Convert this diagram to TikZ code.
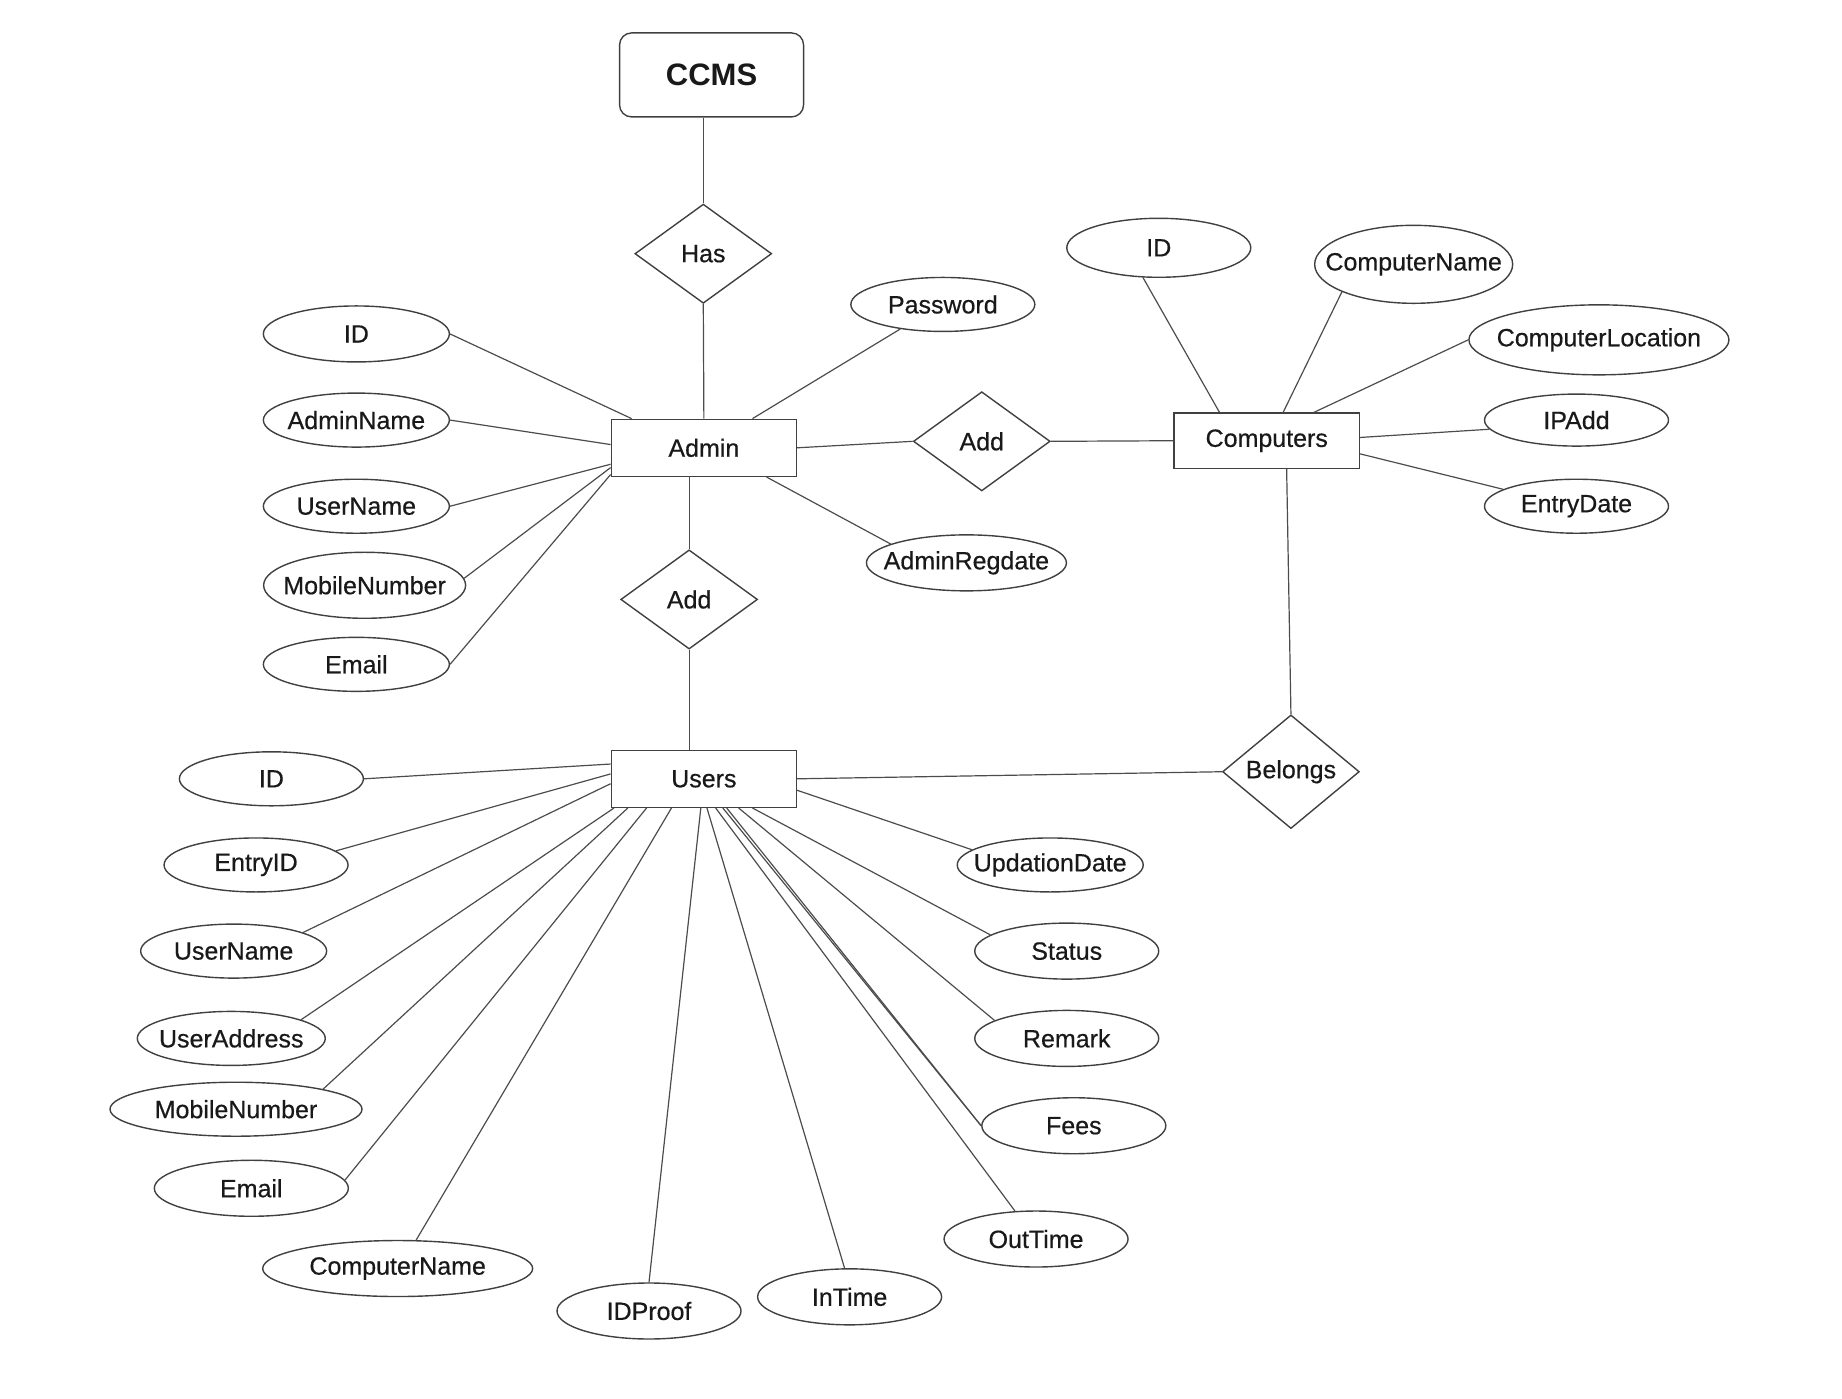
\documentclass[tikz,border=0pt]{standalone}
\usepackage{fontspec}
\setmainfont{Liberation Sans}
\newfontfamily\erfont{Liberation Sans}[FakeBold=0.5]
\usetikzlibrary{shapes.geometric}

\begin{document}
\begin{tikzpicture}[x=0.59pt, y=-0.59pt,
    every node/.style={font=\erfont\fontsize{12.5}{14}\selectfont, text=black!90},
    entity/.style={draw=black!75, line width=0.7pt, minimum width=92.6pt, minimum height=28.5pt, inner sep=0pt},
    rel/.style={draw=black!75, line width=0.7pt, diamond, minimum width=68.4pt, minimum height=49.6pt, inner sep=0pt},
    attr/.style={draw=black!75, line width=0.7pt, ellipse, minimum width=92pt, minimum height=27.5pt, inner sep=0pt,
        execute at begin node=\hbox to 0pt\bgroup\hss, execute at end node=\hss\egroup},
    link/.style={black!70, line width=0.6pt}]
    \useasboundingbox (0,0) rectangle (1561,1185);

    % entities and relations
    \node[draw=black!75, line width=0.7pt, rounded corners=6pt, minimum width=92pt, minimum height=42pt,
        font=\bfseries\fontsize{15.5}{18}\selectfont] (ccms) at (603,63.5) {CCMS};
    \node[rel] (has) at (596,215) {Has};
    \node[entity] (admin) at (596.5,379.5) {Admin};
    \node[rel] (addc) at (832,374) {Add};
    \node[entity, minimum height=27.7pt] (comp) at (1073.5,373.5) {Computers};
    \node[rel] (addu) at (584,508) {Add};
    \node[entity] (users) at (596.5,660) {Users};
    \node[rel] (belongs) at (1094,654) {Belongs};

    \draw[link] (has.north) -- (has.north |- ccms.south);
    \draw[link] (has.south) -- (admin.north);
    \draw[link] (admin.east) -- (addc.west);
    \draw[link] (addc.east) -- (comp.west);
    \draw[link] (addu.north |- admin.south) -- (addu.north);
    \draw[link] (addu.south) -- (addu.south |- users.north);
    \draw[link] (users.east) -- (belongs.west);
    \draw[link] (comp.305) -- (belongs.north);

    % admin attributes
    \foreach \n/\px/\py/\t/\w/\h/\s/\e in {
        aid/302/283/ID/93pt/28pt/east/158,
        aname/302/356/AdminName/93pt/27pt/east/178,
        auser/302/429/UserName/93pt/27pt/east/190,
        amob/309/496/MobileNumber/101pt/33pt/4/192,
        amail/302/563/Email/93pt/27pt/east/196,
        apass/799/258/Password/92pt/27pt/210/31,
        areg/819/477/AdminRegdate/100pt/28pt/166/335} {
        \node[attr, minimum width=\w, minimum height=\h] (\n) at (\px,\py) {\t};
        \draw[link] (\n.\s) -- (admin.\e);
    }

    % computer attributes
    \foreach \n/\px/\py/\t/\w/\h/\s/\e in {
        cid/982/210/ID/92pt/29.5pt/242/149,
        cname/1198/224/ComputerName/99pt/39pt/201/60,
        cloc/1355/288/ComputerLocation/130pt/35pt/west/31,
        cip/1336/356/IPAdd/92pt/26pt/186/2,
        cdate/1336/429/EntryDate/92pt/27pt/167/352} {
        \node[attr, minimum width=\w, minimum height=\h] (\n) at (\px,\py) {\t};
        \draw[link] (\n.\s) -- (comp.\e);
    }

    % user attributes
    \foreach \n/\px/\py/\t/\w/\h/\s/\e in {
        uid/230/660/ID/92pt/27pt/east/171,
        uentry/217/733/EntryID/92pt/27pt/10/177,
        uuser/198/806/UserName/93pt/27pt/15/183,
        uaddr/196/880/UserAddress/94pt/27pt/15/198,
        umob/200/940/MobileNumber/126pt/27pt/13/201,
        umail/213/1007/Email/97pt/28pt/5/207,
        ucomp/337/1075/ComputerName/135pt/28pt/57/222,
        uproof/550/1111/IDProof/92pt/28pt/north/264,
        utime/720/1099/InTime/92pt/28pt/100/276,
        uout/878/1050/OutTime/92pt/28pt/127/292,
        ufees/910/954/Fees/92pt/28pt/west/303,
        uremark/904/880/Remark/92pt/28pt/166/320,
        ustatus/904/806/Status/92pt/28pt/168/329,
        uupd/890/733/UpdationDate/93pt/27pt/169/353} {
        \node[attr, minimum width=\w, minimum height=\h] (\n) at (\px,\py) {\t};
        \draw[link] (\n.\s) -- (users.\e);
    }
    \draw[link] (ufees.west) -- (users.308);
\end{tikzpicture}
\end{document}
